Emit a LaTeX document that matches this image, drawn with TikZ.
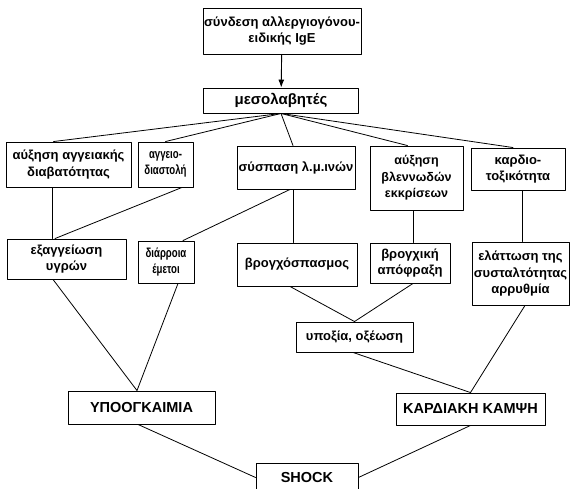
\documentclass[tikz,border=0pt]{standalone}
\usepackage{fontspec}
\usetikzlibrary{arrows.meta}
\setmainfont{Liberation Sans}
\newcommand\narrowtext[1]{\scalebox{0.74}[1]{#1}}
\begin{document}
\begin{tikzpicture}[x=1pt,y=-1pt,line join=round,line cap=round,>={Latex[length=8pt,width=6pt]},
	box/.style={draw,line width=0.9pt,align=center,inner sep=0pt,
		font=\bfseries\fontsize{13}{16.5}\selectfont},
	caps/.style={box,font=\bfseries\fontsize{14.5}{16.5}\selectfont}]
			\useasboundingbox (0,0) rectangle (574,489);
			\clip (0,0) rectangle (574,489);
			% top
			\node[box,minimum width=158pt,minimum height=46pt] (ige) at (282,31) {σύνδεση αλλεργιογόνου-\\ειδικής IgE};
			\node[box,minimum width=155pt,minimum height=25pt,font=\bfseries\fontsize{15}{16.5}\selectfont] (meso) at (281,100.5) {μεσολαβητές};
			\draw[->,line width=0.9pt] (ige) -- (meso);
			% first row
			\node[box,minimum width=125pt,minimum height=45pt] (a1) at (68.5,164.5) {αύξηση αγγειακής\\διαβατότητας};
			\node[box,minimum width=55pt,minimum height=45pt] (a2) at (165.5,164.5) {\narrowtext{αγγειο-}\\\narrowtext{διαστολή}};
			\node[box,minimum width=118pt,minimum height=43pt] (a3) at (296,167.5) {σύσπαση λ.μ.ινών};
			\node[box,minimum width=93pt,minimum height=64pt,font=\bfseries\fontsize{12.5}{16.5}\selectfont] (a4) at (416.5,178) {αύξηση\\βλεννωδών\\εκκρίσεων};
			\node[box,minimum width=94pt,minimum height=42pt] (a5) at (518,169) {καρδιο-\\τοξικότητα};
			\foreach \n/\dx in {a1/-15,a2/0,a3/-3,a4/-9,a5/-5}
			{
				\draw[line width=0.8pt] (meso.south) -- ([xshift=\dx pt]\n.north);
			}
			% second row
			\node[box,minimum width=119pt,minimum height=40pt] (b1) at (66.5,259) {εξαγγείωση\\υγρών};
			\node[box,minimum width=56pt,minimum height=42pt] (b2) at (166,262) {\narrowtext{διάρροια}\\\narrowtext{έμετοι}};
			\node[box,minimum width=120pt,minimum height=43pt] (b3) at (297,264.5) {βρογχόσπασμος};
			\node[box,minimum width=80pt,minimum height=40pt] (b4) at (410,263) {βρογχική\\απόφραξη};
			\node[box,minimum width=97pt,minimum height=63pt] (b5) at (520.5,273.5) {ελάττωση της\\συσταλτότητας\\αρρυθμία};
			\draw[line width=0.8pt] ([xshift=-16pt]a1.south) -- ([xshift=-16pt]a1.south |- b1.north);
			\draw[line width=0.8pt] ([xshift=-3pt]a3.south) -- ([xshift=-3pt]a3.south |- b3.north);
			\draw[line width=0.8pt] ([xshift=-3.5pt]a4.south) -- ([xshift=-3.5pt]a4.south |- b4.north);
			\draw[line width=0.8pt] ([xshift=4pt]a5.south) -- ([xshift=4pt]a5.south |- b5.north);
			\draw[line width=0.8pt] ([xshift=16.5pt]a2.south) -- ([xshift=-11.5pt]b1.north);
			\draw[line width=0.8pt] ([xshift=-6pt]a3.south) -- ([xshift=17pt]b2.north);
			% lower part
			\node[box,minimum width=117pt,minimum height=30pt] (hyp) at (354.5,337) {υποξία, οξέωση};
			\node[caps,minimum width=147pt,minimum height=33pt] (vol) at (141.5,407.5) {ΥΠΟΟΓΚΑΙΜΙΑ};
			\node[caps,minimum width=149pt,minimum height=32pt] (card) at (470.5,409) {ΚΑΡΔΙΑΚΗ ΚΑΜΨΗ};
			\node[caps,minimum width=102pt,minimum height=29pt] (shock) at (307,477.5) {SHOCK};
			\draw[line width=0.8pt] ([xshift=-13.5pt]b1.south) -- ([xshift=-4.5pt]vol.north) -- ([xshift=12pt]b2.south);
			\draw[line width=0.8pt] ([xshift=-7pt]b3.south) -- (hyp.north) -- ([xshift=3pt]b4.south);
			\draw[line width=0.8pt] ([xshift=-1.5pt]hyp.south) -- (card.north) -- ([xshift=4.5pt]b5.south);
			\draw[line width=0.8pt] ([xshift=-3.5pt]vol.south) -- (shock.west);
			\draw[line width=0.8pt] (card.south) -- (shock.east);
		\end{tikzpicture}
\end{document}
